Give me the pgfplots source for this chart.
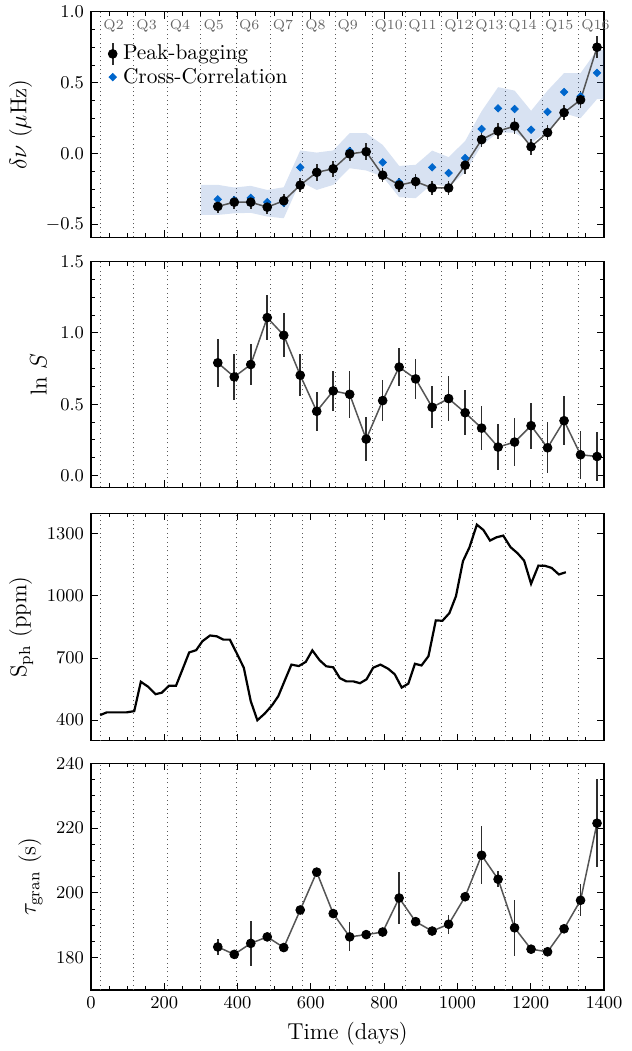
\documentclass[border=0pt]{standalone}
\usepackage{pgfplots}
\usepackage{pgfplotstable}
\pgfplotsset{compat=1.18}
\usepgfplotslibrary{fillbetween}
\definecolor{ccblue}{RGB}{0,102,204}
\definecolor{bandc}{RGB}{60,110,190}
\definecolor{pbgray}{RGB}{85,85,85}
\definecolor{errc}{RGB}{45,45,45}

\pgfplotstableread{
x pb pbe cc
346 -0.37 0.045 -0.32
391 -0.34 0.045 -0.325
436 -0.34 0.045 -0.31
481 -0.375 0.045 -0.34
526 -0.33 0.045 -0.345
571 -0.22 0.05 -0.095
616 -0.13 0.058 -0.13
661 -0.105 0.055 -0.105
706 0.00 0.05 0.02
751 0.015 0.06 0.015
796 -0.15 0.05 -0.06
841 -0.22 0.05 -0.20
886 -0.195 0.05 -0.19
931 -0.24 0.05 -0.095
976 -0.24 0.05 -0.135
1021 -0.08 0.06 -0.03
1066 0.10 0.055 0.175
1111 0.16 0.055 0.32
1156 0.195 0.055 0.315
1201 0.05 0.055 0.17
1246 0.15 0.055 0.295
1291 0.29 0.055 0.435
1336 0.38 0.059 0.405
1381 0.75 0.077 0.57
}\dnutab

\pgfplotstableread{
x lo hi
300 -0.43 -0.218
346 -0.43 -0.218
391 -0.418 -0.237
436 -0.415 -0.225
481 -0.441 -0.254
526 -0.453 -0.235
571 -0.195 0.024
616 -0.254 0.009
661 -0.218 0.024
706 -0.101 0.146
751 -0.117 0.146
796 -0.160 0.063
841 -0.305 -0.085
886 -0.312 -0.077
931 -0.211 0.023
976 -0.235 -0.023
1021 -0.130 0.09
1066 0.06 0.30
1111 0.15 0.469
1156 0.15 0.445
1201 0.075 0.303
1246 0.157 0.445
1291 0.286 0.568
1336 0.251 0.568
1381 0.385 0.73
1400 0.385 0.73
}\bandtab

\pgfplotstableread{
x y e
346 0.791 0.169
391 0.692 0.164
436 0.779 0.146
481 1.108 0.157
526 0.984 0.153
571 0.704 0.146
616 0.451 0.138
661 0.594 0.143
706 0.570 0.163
751 0.256 0.156
796 0.526 0.141
841 0.761 0.133
886 0.678 0.141
931 0.479 0.148
976 0.540 0.156
1021 0.441 0.157
1066 0.333 0.155
1111 0.200 0.164
1156 0.235 0.168
1201 0.350 0.160
1246 0.195 0.178
1291 0.385 0.172
1336 0.146 0.170
1381 0.134 0.174
}\lnStab

\pgfplotstableread{
x y
25 424
43 437
97 437
118 443
136 585
156 561
176 525
193 532
213 566
232 566
250 646
268 727
287 738
304 781
325 809
343 805
361 789
379 789
398 722
417 653
436 491
454 399
474 431
494 471
511 515
529 592
547 668
567 661
586 681
604 737
624 689
642 660
661 655
679 603
697 587
716 587
734 578
752 597
770 653
790 668
811 648
829 621
848 557
866 576
884 672
902 664
921 709
941 882
959 880
978 917
996 999
1015 1168
1033 1236
1053 1345
1071 1319
1089 1268
1107 1284
1125 1292
1145 1236
1164 1207
1182 1171
1201 1059
1221 1147
1239 1146
1257 1136
1277 1104
1296 1115
}\sphtab

\pgfplotstableread{
x y e
346 183.3 2.6
391 181.0 1.0
436 184.4 6.9
481 186.4 1.0
526 183.1 0.6
571 194.7 0.8
616 206.4 0.8
661 193.6 0.8
706 186.4 4.5
751 187.1 0.8
796 187.9 0.8
841 198.4 8.1
886 191.1 0.8
931 188.2 0.8
976 190.3 2.9
1021 198.8 0.8
1066 211.6 9.0
1111 204.2 2.5
1156 189.2 8.7
1201 182.6 0.8
1246 181.8 1.0
1291 188.9 0.8
1336 197.7 4.9
1381 221.5 13.5
}\tautab

\pgfplotsset{
  common/.style={
    scale only axis, width=256.5pt,
    xmin=0, xmax=1400,
    xtick={0,200,...,1400}, minor x tick num=3,
    tick align=inside,
    major tick length=3.5pt, minor tick length=2pt,
    every tick/.style={black, line width=0.5pt},
    axis line style={line width=0.6pt},
    tick label style={font=\fontsize{9.3}{11}\selectfont},
    label style={font=\fontsize{11.5}{13}\selectfont},
    /pgf/number format/1000 sep={},
    extra x ticks={27,117,208,300,397,489,578,666,767,859,957,1042,1132,1232,1331},
    extra x tick labels={},
    extra x tick style={grid=major, major tick length=0pt,
      major grid style={black!65, line width=0.5pt, dash pattern=on 0.5pt off 1.7pt}},
  },
  pbconn/.style={pbgray, line width=0.75pt, no marks, forget plot},
  pbmarks/.style={only marks, mark=*, mark size=2.2pt, mark options={fill=black, draw=black},
    error bars/y dir=both, error bars/y explicit, error bars/error mark=none,
    error bars/error bar style={line width=0.8pt, errc}},
}

\begin{document}
\begin{tikzpicture}

% Panel 1
\begin{axis}[common, at={(45.5pt,406.85pt)}, anchor=south west, height=112.8pt,
  clip=false,
  ymin=-0.587, ymax=1.0, ytick={-0.5,0,0.5,1.0}, minor y tick num=3,
  xticklabels={},
  yticklabel style={/pgf/number format/.cd, fixed, fixed zerofill, precision=1},
  ylabel={$\delta\nu$ ($\mu$Hz)},
  reverse legend,
  legend style={at={(0,1)}, anchor=north west, xshift=8.25pt, yshift=-15pt,
    draw=none, fill=none, inner sep=0pt, row sep=0pt,
    font=\fontsize{10.7}{12}\selectfont,
    nodes={inner xsep=2.75pt, inner ysep=1.2pt}},
  legend cell align=left]
\addplot[name path=up, draw=none, forget plot] table[x=x,y=hi]{\bandtab};
\addplot[name path=lo, draw=none, forget plot] table[x=x,y=lo]{\bandtab};
\addplot[fill=bandc, fill opacity=0.2, draw=none, forget plot] fill between[of=up and lo];
\addplot[only marks, mark=square*, mark size=1.3pt, mark options={rotate=45, fill=ccblue, draw=ccblue},
  legend image code/.code={\fill[ccblue] (0.15cm,1.85pt) -- ++(1.85pt,-1.85pt) -- ++(-1.85pt,-1.85pt) -- ++(-1.85pt,1.85pt) -- cycle;}]
  table[x=x,y=cc]{\dnutab};
\addlegendentry{Cross-Correlation}
\addplot[pbconn] table[x=x,y=pb]{\dnutab};
\addplot[pbmarks,
  legend image code/.code={\draw[errc, line width=0.8pt] (0.15cm,-5.5pt) -- (0.15cm,5.5pt); \fill[black] (0.15cm,0) circle (2.2pt);}]
  table[x=x,y=pb,y error=pbe]{\dnutab};
\addlegendentry{Peak-bagging}
\begin{scope}[every node/.style={anchor=west, text=black!60, font=\fontsize{7}{8}\selectfont, inner sep=0.5pt, xshift=0.6pt}]
\node at (axis cs:27,0.897) {Q2};
\node at (axis cs:117,0.897) {Q3};
\node at (axis cs:208,0.897) {Q4};
\node at (axis cs:300,0.897) {Q5};
\node at (axis cs:397,0.897) {Q6};
\node at (axis cs:489,0.897) {Q7};
\node at (axis cs:578,0.897) {Q8};
\node at (axis cs:666,0.897) {Q9};
\node at (axis cs:767,0.897) {Q10};
\node at (axis cs:859,0.897) {Q11};
\node at (axis cs:957,0.897) {Q12};
\node at (axis cs:1042,0.897) {Q13};
\node at (axis cs:1132,0.897) {Q14};
\node at (axis cs:1232,0.897) {Q15};
\node at (axis cs:1331,0.897) {Q16};
\end{scope}
\end{axis}

% Panel 2
\begin{axis}[common, at={(45.5pt,281.85pt)}, anchor=south west, height=112.8pt,
  ymin=-0.082, ymax=1.5, ytick={0,0.5,1.0,1.5}, minor y tick num=3,
  xticklabels={},
  yticklabel style={/pgf/number format/.cd, fixed, fixed zerofill, precision=1},
  ylabel={ln $S$}]
\addplot[pbconn] table[x=x,y=y]{\lnStab};
\addplot[pbmarks] table[x=x,y=y,y error=e]{\lnStab};
\end{axis}

% Panel 3
\begin{axis}[common, at={(45.5pt,155.15pt)}, anchor=south west, height=113.7pt,
  ymin=300, ymax=1400, ytick={400,700,1000,1300},
  xticklabels={},
  ylabel={S$_{\mathrm{ph}}$ (ppm)}]
\addplot[black, line width=1.1pt, no marks] table[x=x,y=y]{\sphtab};
\end{axis}

% Panel 4
\begin{axis}[common, at={(45.5pt,30.5pt)}, anchor=south west, height=113.35pt,
  ymin=170, ymax=240, ytick={180,200,220,240}, minor y tick num=3,
  xlabel={Time (days)},
  ylabel={$\tau_{\mathrm{gran}}$ (s)}]
\addplot[pbconn] table[x=x,y=y]{\tautab};
\addplot[pbmarks] table[x=x,y=y,y error=e]{\tautab};
\end{axis}

\pgfresetboundingbox
\path[use as bounding box] (0,0) rectangle (316pt,525.5pt);
\end{tikzpicture}
\end{document}
